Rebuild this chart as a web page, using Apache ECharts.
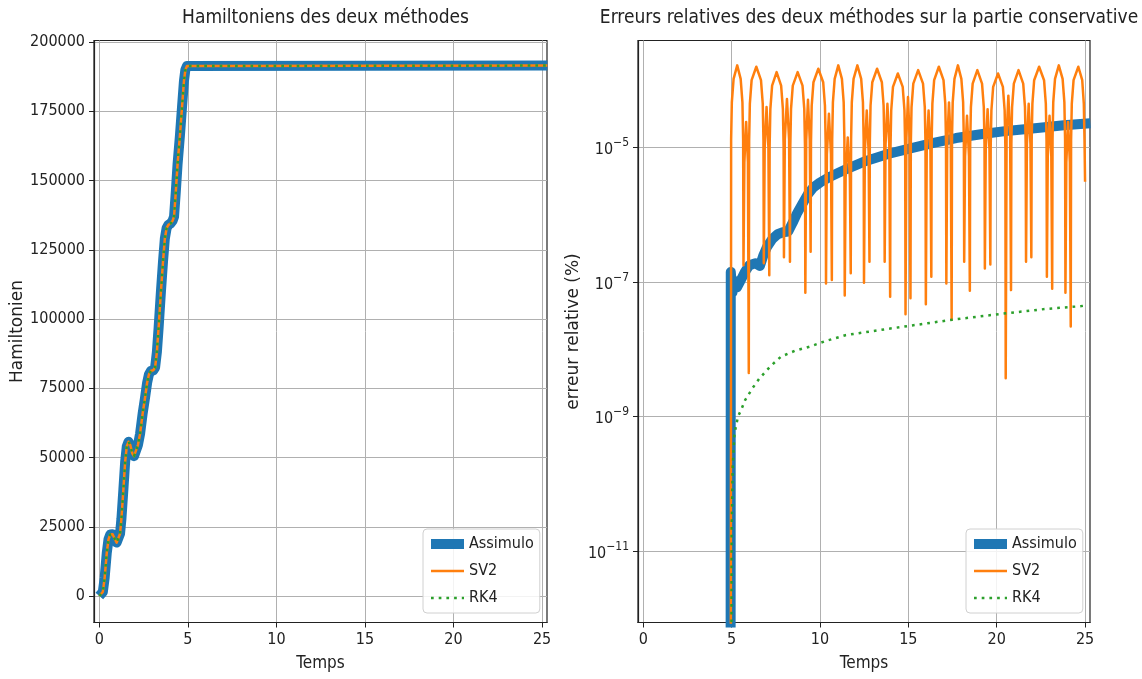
<!DOCTYPE html>
<html>
<head>
<meta charset="utf-8">
<script src="https://cdn.jsdelivr.net/npm/echarts@6/dist/echarts.min.js"></script>
<style>
  html, body { margin: 0; padding: 0; background: #fff; }
  #chart { width: 1142px; height: 679px; }
</style>
</head>
<body>
<div id="chart"></div>
<script>
// ---------- data ----------
// Hamiltonian over time (t, H); the three methods overlap on this scale
const hamiltonian = [
  [0, 0], [0.1, -200], [0.2, 1500], [0.3, 6500], [0.42, 15500], [0.52, 20500],
  [0.62, 22200], [0.75, 22300], [0.88, 20500], [0.98, 19300], [1.08, 19800],
  [1.17, 22500], [1.25, 28000], [1.36, 38500], [1.46, 48500], [1.55, 54000],
  [1.65, 55700], [1.75, 54500], [1.86, 51500], [1.96, 50500], [2.07, 51000],
  [2.18, 54500], [2.3, 58500], [2.45, 66000], [2.58, 71500], [2.7, 77000],
  [2.8, 80000], [2.92, 81300], [3.05, 81500], [3.15, 82500], [3.25, 88000],
  [3.35, 97000], [3.48, 110000], [3.6, 121000], [3.7, 129000], [3.8, 132800],
  [3.9, 134000], [4.02, 134500], [4.14, 135500], [4.22, 137000], [4.32, 146000],
  [4.42, 156000], [4.55, 166000], [4.67, 176500], [4.78, 186000], [4.86, 190000],
  [4.95, 191300], [5.05, 191500], [25.3, 191500]
];
const hamAssimulo = hamiltonian;
const hamSV2 = hamiltonian;
const hamRK4 = hamiltonian;

// Relative error on the conservative part, stored as (t, log10 of error)
const assimuloLogErr = [
  [4.94, -14], [4.95, -6.85], [5.05, -7.15], [5.15, -6.98], [5.3, -7.08], [5.5, -6.98],
  [5.75, -6.85], [6.0, -6.75], [6.35, -6.72], [6.6, -6.76], [6.8, -6.6], [7.0, -6.48],
  [7.3, -6.36], [7.6, -6.29], [7.9, -6.26], [8.2, -6.25], [8.45, -6.12], [8.7, -5.98],
  [9.0, -5.84], [9.3, -5.7], [9.6, -5.6], [10.0, -5.52], [10.6, -5.43], [11.5, -5.32],
  [12.6, -5.2], [13.8, -5.1], [15.0, -5.02], [16.3, -4.94], [17.7, -4.86], [19.2, -4.8],
  [20.7, -4.75], [22.3, -4.71], [23.8, -4.67], [25.3, -4.64]
];
const sv2LogErr = [
  [4.95, -14], [4.97, -4.88], [5.01, -4.33], [5.11, -3.98], [5.315, -3.78], [5.51, -3.98], [5.61, -4.33], [5.65, -4.88], [5.67, -6.75],
  [5.72, -5.22], [5.82, -4.62], [5.92, -5.22], [5.97, -8.35],
  [5.99, -4.90], [6.03, -4.35], [6.13, -4.0], [6.395, -3.80], [6.66, -4.0], [6.76, -4.35], [6.80, -4.90], [6.82, -6.72],
  [6.87, -5.0], [6.975, -4.40], [7.08, -5.0], [7.13, -6.9],
  [7.15, -4.98], [7.19, -4.43], [7.29, -4.08], [7.545, -3.88], [7.80, -4.08], [7.90, -4.43], [7.94, -4.98], [7.96, -6.63],
  [8.01, -4.88], [8.13, -4.28], [8.25, -4.88], [8.30, -6.7],
  [8.32, -4.98], [8.36, -4.43], [8.46, -4.08], [8.735, -3.88], [9.01, -4.08], [9.11, -4.43], [9.15, -4.98], [9.17, -7.16],
  [9.22, -4.89], [9.32, -4.29], [9.42, -4.89], [9.47, -6.55],
  [9.49, -4.93], [9.53, -4.38], [9.63, -4.03], [9.905, -3.83], [10.18, -4.03], [10.28, -4.38], [10.32, -4.93], [10.34, -7.02],
  [10.39, -5.1], [10.505, -4.5], [10.62, -5.1], [10.67, -6.97],
  [10.69, -4.88], [10.73, -4.33], [10.83, -3.98], [11.035, -3.78], [11.24, -3.98], [11.34, -4.33], [11.38, -4.88], [11.40, -7.2],
  [11.45, -5.45], [11.57, -4.85], [11.69, -5.45], [11.74, -6.87],
  [11.76, -4.88], [11.80, -4.33], [11.90, -3.98], [12.115, -3.78], [12.33, -3.98], [12.43, -4.33], [12.47, -4.88], [12.49, -7.01],
  [12.54, -5.05], [12.645, -4.45], [12.75, -5.05], [12.80, -6.7],
  [12.82, -4.93], [12.86, -4.38], [12.96, -4.03], [13.23, -3.83], [13.50, -4.03], [13.60, -4.38], [13.64, -4.93], [13.66, -6.7],
  [13.71, -4.95], [13.815, -4.35], [13.92, -4.95], [13.97, -7.22],
  [13.99, -5.0], [14.03, -4.45], [14.13, -4.1], [14.405, -3.90], [14.68, -4.1], [14.78, -4.45], [14.82, -5.0], [14.84, -7.48],
  [14.89, -4.85], [14.98, -4.25], [15.07, -4.85], [15.12, -7.24],
  [15.14, -4.95], [15.18, -4.4], [15.28, -4.05], [15.555, -3.85], [15.83, -4.05], [15.93, -4.4], [15.97, -4.95], [15.99, -7.33],
  [16.04, -5.05], [16.145, -4.45], [16.25, -5.05], [16.30, -6.92],
  [16.32, -4.9], [16.36, -4.35], [16.46, -4.0], [16.725, -3.80], [16.99, -4.0], [17.09, -4.35], [17.13, -4.9], [17.15, -7.02],
  [17.20, -4.93], [17.30, -4.33], [17.40, -4.93], [17.45, -7.56],
  [17.47, -4.88], [17.51, -4.33], [17.61, -3.98], [17.805, -3.78], [18.0, -3.98], [18.10, -4.33], [18.14, -4.88], [18.16, -6.7],
  [18.21, -5.13], [18.32, -4.53], [18.43, -5.13], [18.48, -7.13],
  [18.50, -4.95], [18.54, -4.4], [18.64, -4.05], [18.905, -3.85], [19.17, -4.05], [19.27, -4.4], [19.31, -4.95], [19.33, -6.8],
  [19.38, -5.03], [19.485, -4.43], [19.59, -5.03], [19.64, -6.74],
  [19.66, -5.0], [19.70, -4.45], [19.80, -4.1], [20.075, -3.90], [20.35, -4.1], [20.45, -4.45], [20.49, -5.0], [20.51, -8.43],
  [20.56, -4.83], [20.66, -4.23], [20.76, -4.83], [20.81, -7.12],
  [20.83, -4.95], [20.87, -4.4], [20.97, -4.05], [21.235, -3.85], [21.50, -4.05], [21.60, -4.4], [21.64, -4.95], [21.66, -6.7],
  [21.71, -4.95], [21.81, -4.35], [21.91, -4.95], [21.96, -6.63],
  [21.98, -4.9], [22.02, -4.35], [22.12, -4.0], [22.40, -3.80], [22.68, -4.0], [22.78, -4.35], [22.82, -4.9], [22.84, -6.92],
  [22.89, -5.13], [22.99, -4.53], [23.09, -5.13], [23.14, -7.1],
  [23.16, -4.88], [23.20, -4.33], [23.30, -3.98], [23.515, -3.78], [23.73, -3.98], [23.83, -4.33], [23.87, -4.88], [23.89, -7.16],
  [23.94, -5.22], [24.04, -4.62], [24.14, -5.22], [24.19, -7.66],
  [24.21, -4.9], [24.25, -4.35], [24.35, -4.0], [24.62, -3.80], [24.84, -4.0], [24.93, -4.35], [24.97, -4.9], [25.0, -5.51]
];
const rk4LogErr = [
  [4.98, -14], [5.0, -10.7], [5.06, -9.74], [5.16, -9.25], [5.36, -9.0], [5.57, -8.88],
  [5.77, -8.75], [6.2, -8.57], [6.58, -8.43], [7.2, -8.25], [7.79, -8.11], [8.6, -8.02],
  [9.41, -7.96], [10.4, -7.87], [11.44, -7.79], [13.2, -7.72], [15.08, -7.65], [17.5, -7.56],
  [20.34, -7.47], [22.77, -7.40], [24.7, -7.36], [25.0, -7.35]
];

const timeTicks = [0, 5, 10, 15, 20, 25];
const hamTicks = [0, 25000, 50000, 75000, 100000, 125000, 150000, 175000, 200000];
const errTicks = [1e-11, 1e-9, 1e-7, 1e-5];
const legendNames = ['Assimulo', 'SV2', 'RK4'];

// ---------- styling ----------
const FONT = "'DejaVu Sans Condensed', 'DejaVu Sans', sans-serif";
const FONT_V = "'DejaVu Sans', sans-serif";
const INK = '#222';
const C_BLUE = '#1f77b4', C_ORANGE = '#ff7f0e', C_GREEN = '#2ca02c';
const DOTS = [2.7, 5];

const toErr = arr => arr.map(([t, e]) => [t, Math.pow(10, e)]);

function timeAxis(gridIndex) {
  return {
    type: 'value', gridIndex, min: -0.3, max: 25.28,
    name: 'Temps', nameLocation: 'middle', nameGap: 33,
    nameTextStyle: { fontSize: 17, color: INK, fontFamily: FONT },
    axisLine: { show: true, onZero: false, lineStyle: { color: INK, width: 1.2 } },
    axisTick: { show: true, inside: false, length: 5, customValues: timeTicks, lineStyle: { color: INK, width: 1 } },
    axisLabel: { customValues: timeTicks, margin: 9, fontSize: 16, color: INK, fontFamily: FONT },
    splitLine: { show: true, lineStyle: { color: '#b0b0b0', width: 1 } }
  };
}

function lineSeries(name, data, xi, color, width, dash) {
  return {
    name, type: 'line', xAxisIndex: xi, yAxisIndex: xi, data,
    symbol: 'none', showSymbol: false, animation: false, clip: true,
    color,
    lineStyle: { color, width, type: dash || 'solid', cap: 'butt', join: 'round' },
    emphasis: { disabled: true }
  };
}

function legendAt(left) {
  return {
    data: legendNames, orient: 'vertical', left, top: 529,
    itemWidth: 33, itemHeight: 14, itemGap: 11,
    padding: [7, 6, 7, 3],
    backgroundColor: 'rgba(255,255,255,0.85)',
    borderColor: '#d0d0d0', borderWidth: 1, borderRadius: 4,
    itemStyle: { opacity: 0, borderWidth: 0 },
    lineStyle: { width: 'inherit', type: 'inherit', cap: 'butt' },
    textStyle: { fontSize: 16, color: INK, fontFamily: FONT },
    selectedMode: false
  };
}

const chart = echarts.init(document.getElementById('chart'), null, { renderer: 'canvas' });
chart.setOption({
  animation: false,
  backgroundColor: '#fff',
  title: [
    { text: 'Hamiltoniens des deux méthodes', left: 320.5, top: 4, textAlign: 'center',
      textStyle: { fontSize: 19, fontWeight: 'normal', color: INK, fontFamily: FONT } },
    { text: 'Erreurs relatives des deux méthodes sur la partie conservative', left: 864, top: 4, textAlign: 'center',
      textStyle: { fontSize: 19, fontWeight: 'normal', color: INK, fontFamily: FONT } }
  ],
  grid: [
    { left: 94, top: 40.5, width: 453, height: 582, show: true, borderColor: INK, borderWidth: 1.2, backgroundColor: 'transparent', containLabel: false },
    { left: 638, top: 40.5, width: 452, height: 582, show: true, borderColor: INK, borderWidth: 1.2, backgroundColor: 'transparent', containLabel: false }
  ],
  legend: [legendAt(423), legendAt(966)],
  xAxis: [timeAxis(0), timeAxis(1)],
  yAxis: [
    {
      type: 'value', gridIndex: 0, min: -9550, max: 200550,
      name: 'Hamiltonien', nameLocation: 'middle', nameGap: 68, nameRotate: 90,
      nameTextStyle: { fontSize: 17, color: INK, fontFamily: FONT_V },
      axisLine: { show: true, onZero: false, lineStyle: { color: INK, width: 1.2 } },
      axisTick: { show: true, inside: false, length: 5, customValues: hamTicks, lineStyle: { color: INK, width: 1 } },
      axisLabel: { customValues: hamTicks, margin: 9, fontSize: 16, color: INK, fontFamily: FONT,
        formatter: v => String(Math.round(v)) },
      splitLine: { show: true, lineStyle: { color: '#b0b0b0', width: 1 } }
    },
    {
      type: 'log', logBase: 10, gridIndex: 1, min: Math.pow(10, -12.06), max: Math.pow(10, -3.41),
      name: 'erreur relative (%)', nameLocation: 'middle', nameGap: 56, nameRotate: 90,
      nameTextStyle: { fontSize: 17, color: INK, fontFamily: FONT_V },
      axisLine: { show: true, onZero: false, lineStyle: { color: INK, width: 1.2 } },
      axisTick: { show: true, inside: false, length: 5, customValues: errTicks, lineStyle: { color: INK, width: 1 } },
      minorTick: { show: false },
      axisLabel: {
        customValues: errTicks, margin: 9, color: INK, fontFamily: FONT,
        formatter: v => '{b|10}{s|\u2212' + Math.round(-Math.log10(v)) + '}',
        rich: {
          b: { fontSize: 16, color: INK, fontFamily: FONT, verticalAlign: 'bottom', lineHeight: 21 },
          s: { fontSize: 12, color: INK, fontFamily: FONT, verticalAlign: 'top', lineHeight: 12 }
        }
      },
      splitLine: { show: true, lineStyle: { color: '#b0b0b0', width: 1 } }
    }
  ],
  series: [
    lineSeries('Assimulo', hamAssimulo, 0, C_BLUE, 10),
    lineSeries('SV2', hamSV2, 0, C_ORANGE, 2.5),
    lineSeries('RK4', hamRK4, 0, C_GREEN, 2.5, DOTS),
    lineSeries('Assimulo', toErr(assimuloLogErr), 1, C_BLUE, 10),
    lineSeries('SV2', toErr(sv2LogErr), 1, C_ORANGE, 2.5),
    lineSeries('RK4', toErr(rk4LogErr), 1, C_GREEN, 2.5, DOTS)
  ]
});
</script>
</body>
</html>
